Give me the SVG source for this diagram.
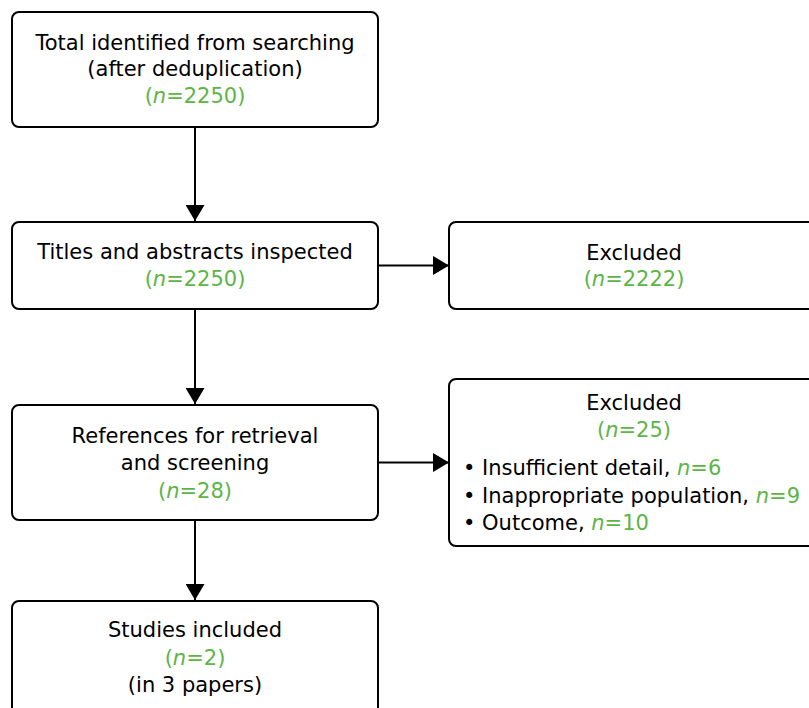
<svg xmlns="http://www.w3.org/2000/svg" width="809" height="708" viewBox="0 0 809 708">
<defs>
<style>
.box{fill:#fff;stroke:#000;stroke-width:2}
text{font-family:"DejaVu Sans",sans-serif;font-size:21px;fill:#000}
.c{text-anchor:middle}
.g{fill:#5cb546}
.i{font-style:italic}
.ln{stroke:#000;stroke-width:2;fill:none}
</style>
<marker id="ah" viewBox="0 0 16 19" refX="16" refY="9.5" markerWidth="16" markerHeight="19" markerUnits="userSpaceOnUse" orient="auto">
<path d="M0,0 L16,9.5 L0,19 Z" fill="#000"/>
</marker>
</defs>
<rect width="809" height="708" fill="#fff"/>
<g id="connectors">
<line class="ln" x1="195" y1="127" x2="195" y2="221" marker-end="url(#ah)"/>
<line class="ln" x1="195" y1="309" x2="195" y2="404" marker-end="url(#ah)"/>
<line class="ln" x1="195" y1="520" x2="195" y2="600" marker-end="url(#ah)"/>
<line class="ln" x1="378" y1="265.5" x2="449" y2="265.5" marker-end="url(#ah)"/>
<line class="ln" x1="378" y1="462.5" x2="449" y2="462.5" marker-end="url(#ah)"/>
</g>
<g id="n1">
<rect class="box" x="12" y="12" width="366" height="115" rx="7"/>
<text class="c" x="195" y="49.5">Total identified from searching</text>
<text class="c" x="195" y="76">(after deduplication)</text>
<text class="c g" x="195" y="103">(<tspan class="i">n</tspan>=2250)</text>
</g>
<g id="n2">
<rect class="box" x="12" y="222" width="366" height="87" rx="7"/>
<text class="c" x="195" y="259">Titles and abstracts inspected</text>
<text class="c g" x="195" y="285.5">(<tspan class="i">n</tspan>=2250)</text>
</g>
<g id="n3">
<rect class="box" x="449" y="222" width="370" height="87" rx="7"/>
<text class="c" x="634" y="259.5">Excluded</text>
<text class="c g" x="634" y="286">(<tspan class="i">n</tspan>=2222)</text>
</g>
<g id="n4">
<rect class="box" x="12" y="405" width="366" height="115" rx="7"/>
<text class="c" x="195" y="442.5">References for retrieval</text>
<text class="c" x="195" y="470">and screening</text>
<text class="c g" x="195" y="497.5">(<tspan class="i">n</tspan>=28)</text>
</g>
<g id="n5">
<rect class="box" x="449" y="379" width="370" height="167" rx="7"/>
<text class="c" x="634" y="410">Excluded</text>
<text class="c g" x="634" y="436.5">(<tspan class="i">n</tspan>=25)</text>
<text x="463" y="475">• Insufficient detail, <tspan class="g i">n</tspan><tspan class="g">=6</tspan></text>
<text x="463" y="502.5">• Inappropriate population, <tspan class="g i">n</tspan><tspan class="g">=9</tspan></text>
<text x="463" y="529.5">• Outcome, <tspan class="g i">n</tspan><tspan class="g">=10</tspan></text>
</g>
<g id="n6">
<rect class="box" x="12" y="601" width="366" height="120" rx="7"/>
<text class="c" x="195" y="637">Studies included</text>
<text class="c g" x="195" y="665">(<tspan class="i">n</tspan>=2)</text>
<text class="c" x="195" y="691.5">(in 3 papers)</text>
</g>
</svg>
